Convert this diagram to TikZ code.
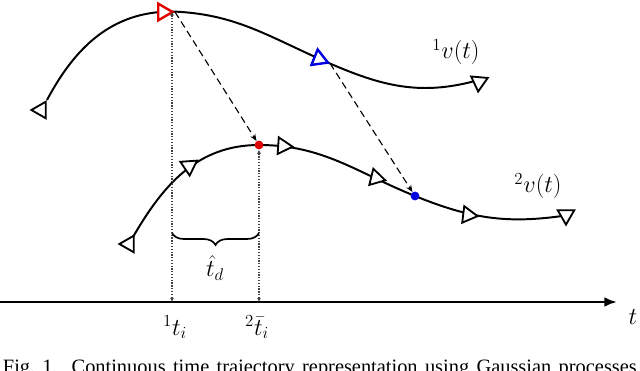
\documentclass[tikz,border=0pt]{standalone}
\usepackage{fontspec}
\usepackage{amsmath,amssymb}
\usepackage{tikz}
\usetikzlibrary{shapes,arrows.meta,positioning,calc,decorations.pathreplacing}
\newfontfamily\capfont{Liberation Serif}
\definecolor{TrajRed}{HTML}{E00000}
\definecolor{TrajBlue}{HTML}{0000E0}
\definecolor{TrajBlack}{HTML}{000000}
\definecolor{TrajWhite}{HTML}{ffffff}
\definecolor{TrajGray}{HTML}{444444}
\tikzset{
    % Base triangle marker style
    trinode/.style={
        draw=TrajBlack,
        fill=TrajWhite,
        line width=1.3pt,
        regular polygon,
        regular polygon sides=3,
        minimum size=0.48cm,
        inner sep=0pt
    },
    % Red triangle marker
    redtri/.style={
        trinode,
        draw=TrajRed,
        line width=1.7pt
    },
    % Blue triangle marker
    bluetri/.style={
        trinode,
        draw=TrajBlue,
        line width=1.7pt
    },
    % Sample point style
    dotnode/.style={
        circle,
        inner sep=0pt,
        minimum size=0.22cm
    },
    reddot/.style={
        dotnode,
        fill=TrajRed
    },
    bluedot/.style={
        dotnode,
        fill=TrajBlue
    },
    % Trajectory curve
    trajline/.style={
        line width=1.4pt,
        draw=TrajBlack
    },
    % Time axis
    axisarrow/.style={
        -{Latex[length=9pt,width=7pt]},
        line width=2pt,
        draw=TrajBlack
    },
    % Dashed mapping arrow
    dasharrow/.style={
        -{Stealth[length=5pt,width=4pt]},
        dash pattern=on 5pt off 3pt,
        line width=0.8pt,
        draw=TrajBlack
    },
    % Dotted guide to the axis
    guidearrow/.style={
        {Latex[length=3pt,width=3pt]}-{Latex[length=3pt,width=3pt]},
        dash pattern=on 0.9pt off 1.1pt,
        line width=0.8pt,
        draw=TrajGray
    },
    % Delay brace
    tdbrace/.style={
        decorate,
        decoration={brace,mirror,amplitude=0.3cm},
        line width=1.2pt,
        draw=TrajBlack
    },
    % Math labels
    mathlabel/.style={
        inner sep=0pt,
        font=\fontsize{17.28}{21}\selectfont
    },
    % Caption text
    captext/.style={
        inner sep=0pt,
        font=\capfont\fontsize{14.5}{17}\selectfont
    }
}

\begin{document}
\begin{tikzpicture}[x=0.025cm,y=0.025cm]
    \useasboundingbox (0,0) rectangle (640,370);
    \coordinate (c11) at (47,270);
    \coordinate (c12) at (172,358.5);
    \coordinate (c13) at (322,310);
    \coordinate (c14) at (475,289);
    \coordinate (c21) at (133,133);
    \coordinate (c22) at (259,225);
    \coordinate (c23) at (415,174);
    \coordinate (c24) at (562,154);
    \coordinate (o) at (0,68);
    \coordinate (tend) at (617,68);
    \coordinate (bl) at (172,137);
    \coordinate (br) at (259,137);

    \draw[trajline] (c11) to[out=62,in=180] (c12) to[out=-2,in=156] (c13) to[out=-24,in=195] (c14);
    \draw[trajline] (c21) to[out=60,in=180] (c22) to[out=0,in=158] (c23) to[out=-22,in=188] (c24);
    \draw[axisarrow] (o) -- (tend);

    \node[trinode,rotate=90] (m10) at (41,260) {};
    \node[redtri,rotate=-90] (rt) at (163,358) {};
    \node[bluetri,rotate=8] (bt) at (319,311) {};
    \node[trinode,rotate=175] (m11) at (479,288) {};
    \node[trinode,rotate=90] (m20) at (129,126) {};
    \node[trinode,rotate=184] (m21) at (189,204) {};
    \node[trinode,rotate=-94] (m22) at (283,224) {};
    \node[trinode,rotate=-104] (m23) at (376,192) {};
    \node[trinode,rotate=-97] (m24) at (468,155) {};
    \node[trinode,rotate=180] (m25) at (566,155) {};
    \node[reddot] (rd) at (c22) {};
    \node[bluedot] (bd) at (c23) {};

    \draw[dasharrow] (rt.corner 1) -- (rd);
    \draw[dasharrow] (bt.corner 3) -- (bd);
    \draw[guidearrow] (c12) -- (c12 |- o);
    \draw[guidearrow] (rd) -- (rd |- o);
    \draw[tdbrace] (bl) -- (br);

    \node[mathlabel] (v1) at (456,318) {$^1v(t)$};
    \node[mathlabel] (v2) at (538,184) {$^2v(t)$};
    \node[mathlabel] (td) at (215,102) {$\hat{t}_d$};
    \node[mathlabel] (ti1) at (175,43) {$^1t_i$};
    \node[mathlabel] (ti2) at (257,43) {$^2\bar{t}_i$};
    \node[mathlabel] (tax) at (633,53) {$t$};
    \node[captext,anchor=base west] (cap) at (2.7,-3.5) {Fig.\kern5pt1.\kern10pt\makebox[14.125cm][s]{Continuous time trajectory representation using Gaussian processes}};
\end{tikzpicture}
\end{document}
